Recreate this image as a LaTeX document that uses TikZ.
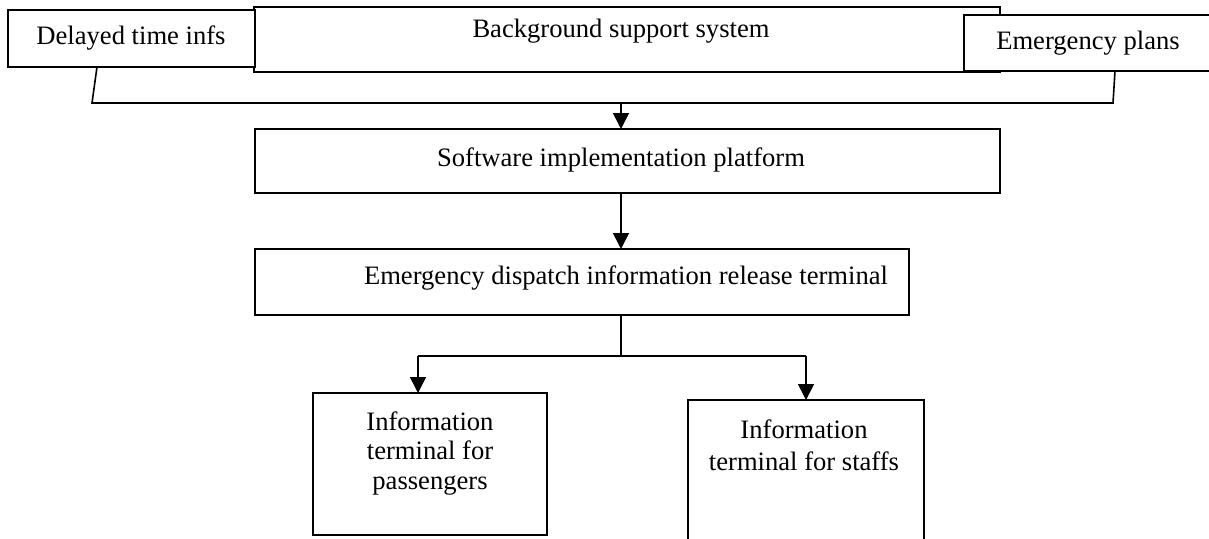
\documentclass[tikz,border=0pt]{standalone}
\usepackage{fontspec}
\setmainfont{Liberation Serif}
\usetikzlibrary{arrows.meta}
\begin{document}
\begin{tikzpicture}[x=1pt,y=-1pt,
  box/.style={draw,fill=white,line width=1.6pt,inner sep=0pt,outer sep=0pt},
  txt/.style={font=\fontsize{26.6}{30}\selectfont,inner sep=0pt,align=center},
  wire/.style={line width=1.6pt},
  arr/.style={wire,-{Triangle[width=16pt,length=16pt]}}]
\useasboundingbox (0,0) rectangle (1209,538);
% boxes
\node[box,minimum width=746pt,minimum height=65pt] (bg) at (627,39.5) {};
\node[box,minimum width=247pt,minimum height=57pt] (delayed) at (131.5,38.5) {};
\node[box,minimum width=248pt,minimum height=56pt] (plans) at (1088,43) {};
\node[box,minimum width=745pt,minimum height=64pt] (soft) at (627.5,161) {};
\node[box,minimum width=654pt,minimum height=66pt] (disp) at (582,282) {};
\node[box,minimum width=234pt,minimum height=142pt] (pass) at (430,464) {};
\node[box,minimum width=236pt,minimum height=146pt] (staff) at (806,473) {};
% texts
\node[txt] (tdelayed) at (131,38) {Delayed time infs};
\node[txt] (tbg) at (621,31) {Background support system};
\node[txt] (tplans) at (1088,43) {Emergency plans};
\node[txt] (tsoft) at (621,160) {Software implementation platform};
\node[txt] (tdisp) at (626,278) {Emergency dispatch information release terminal};
\node[txt,font=\fontsize{26.6}{29.5}\selectfont] (tpass) at (430,453) {Information\\terminal for\\passengers};
\node[txt,font=\fontsize{26.6}{32}\selectfont] (tstaff) at (804,445) {Information\\terminal for staffs};
% connectors
\coordinate (bl) at (92,103);
\coordinate (br) at (1113,103);
\coordinate (bm) at (621,103);
\coordinate (jn) at (621,356);
\coordinate (jl) at (418,356);
\coordinate (jr) at (806,356);
\draw[wire] ([xshift=89pt]delayed.south west) -- (bl) -- (br) -- ([xshift=151pt]plans.south west);
\draw[arr] (bm) -- (bm |- soft.north);
\draw[arr] (soft.south -| bm) -- (bm |- disp.north);
\draw[wire] (disp.south -| jn) -- (jn);
\draw[wire] (jl) -- (jr);
\draw[arr] (jl) -- (jl |- pass.north);
\draw[arr] (jr) -- (staff.north);
\end{tikzpicture}
\end{document}
